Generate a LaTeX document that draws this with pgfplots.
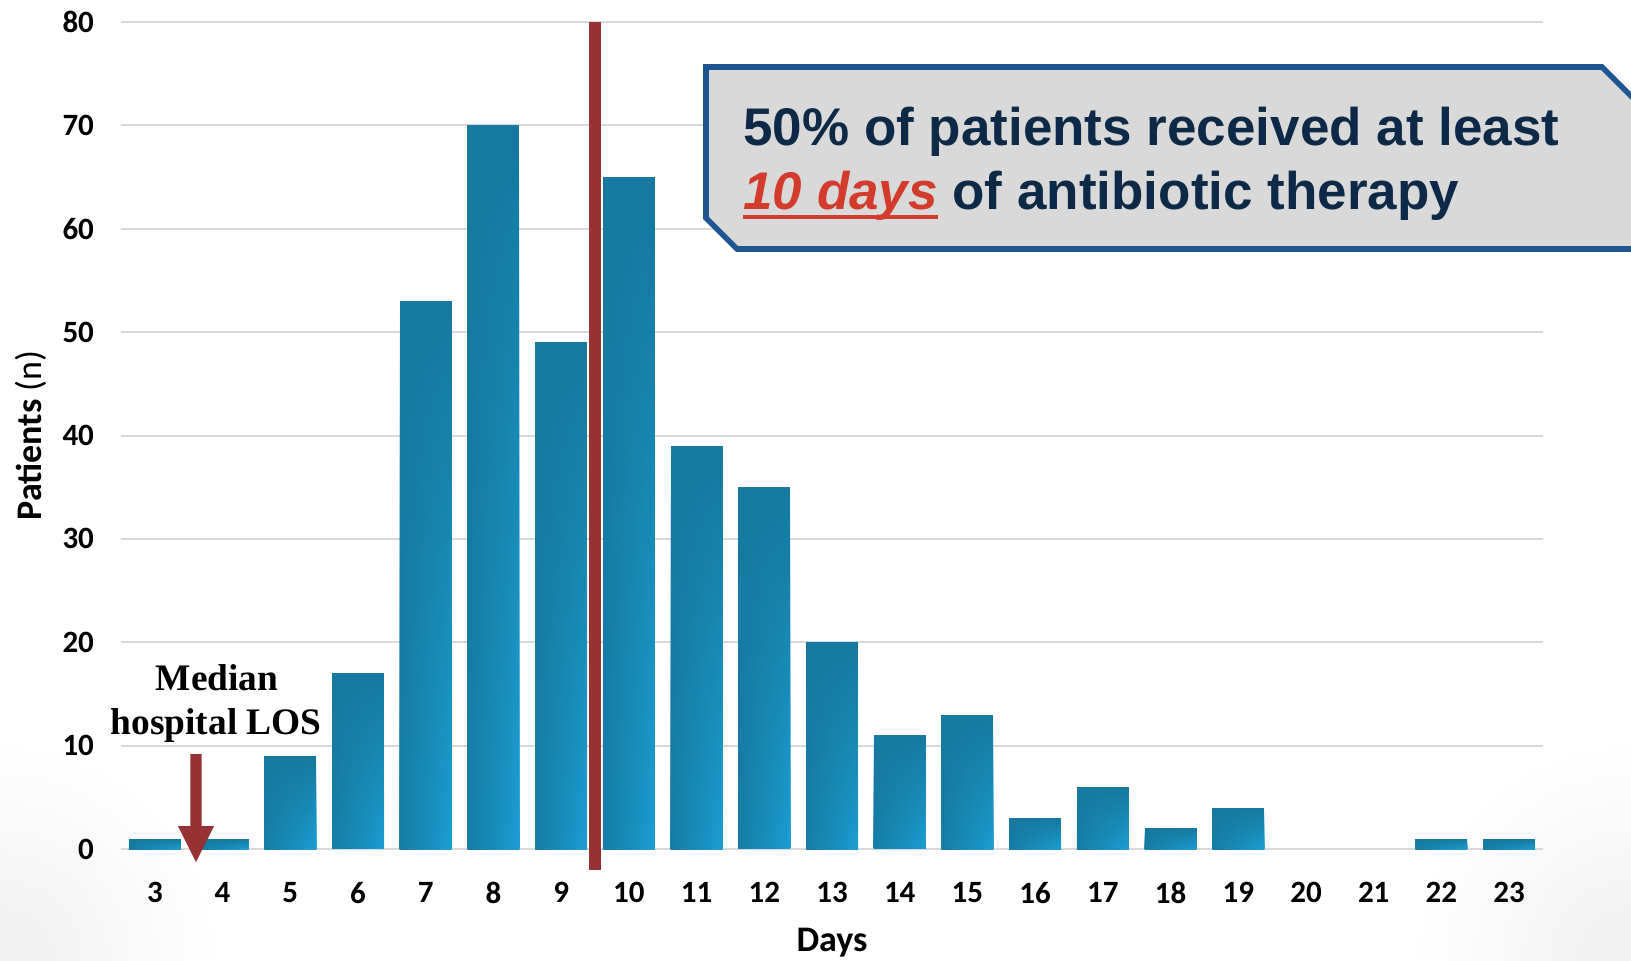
\documentclass[border=0pt]{standalone}
\usepackage{pgfplots}
\pgfplotsset{compat=1.18}
\usetikzlibrary{fadings}
\usepackage{fontspec}
\setmainfont{Carlito}
\newfontfamily\arialf{Liberation Sans}
\newfontfamily\seriff{Liberation Serif}
\definecolor{barD}{HTML}{16799F}
\definecolor{barL}{HTML}{167DA7}
\definecolor{barR}{HTML}{1C9ED3}
\definecolor{gridc}{HTML}{D9D9D9}
\definecolor{darkred}{HTML}{963234}
\definecolor{navy}{HTML}{0C2A48}
\definecolor{boxblue}{HTML}{1F5591}
\definecolor{boxfill}{HTML}{D9D9D9}
\definecolor{redtxt}{HTML}{D33C2C}
\pgfplotsset{mybar/.style={ybar, bar shift=0pt, bar width=26pt, draw=none, fill=barD,
  postaction={left color=barL, right color=barR, path fading=north}}}
\begin{document}
\begin{tikzpicture}
\useasboundingbox (-60.5pt,-55.5pt) rectangle (755pt,424.5pt);
\clip (-60.5pt,-55.5pt) rectangle (755pt,424.5pt);
\shade[inner color=black!6, outer color=white] (-60.5pt,-55.5pt) circle (110pt);
\shade[inner color=black!6, outer color=white] (755pt,-55.5pt) circle (110pt);
\begin{axis}[
 at={(0,0)}, anchor=south west,
 scale only axis, width=711pt, height=413.5pt,
 xmin=2.5, xmax=23.5, ymin=0, ymax=80,
 xtick={3,...,23}, ytick={0,10,...,80},
 ymajorgrids, grid style={draw=gridc, line width=1pt},
 axis line style={draw=none},
 major tick length=0pt, tick style={draw=none},
 tick label style={font=\fontsize{15.5}{18}\selectfont\bfseries},
 /pgf/number format/assume math mode=true,
 yticklabel style={xshift=-10pt},
 xticklabel style={yshift=-13pt},
 xlabel={Days}, ylabel={\textbf{Patients} (n)},
 xlabel style={font=\fontsize{18}{20}\selectfont\bfseries, at={(axis description cs:0.5,-0.113)}, anchor=center},
 ylabel style={font=\fontsize{18}{20}\selectfont, at={(axis description cs:-0.0633,0.5)}, anchor=center},
 clip=false,
]
% one \addplot per day so that each bar gets its own gradient
\addplot[mybar] coordinates {(3,1)};
\addplot[mybar] coordinates {(4,1)};
\addplot[mybar] coordinates {(5,9)};
\addplot[mybar] coordinates {(6,17)};
\addplot[mybar] coordinates {(7,53)};
\addplot[mybar] coordinates {(8,70)};
\addplot[mybar] coordinates {(9,49)};
\addplot[mybar] coordinates {(10,65)};
\addplot[mybar] coordinates {(11,39)};
\addplot[mybar] coordinates {(12,35)};
\addplot[mybar] coordinates {(13,20)};
\addplot[mybar] coordinates {(14,11)};
\addplot[mybar] coordinates {(15,13)};
\addplot[mybar] coordinates {(16,3)};
\addplot[mybar] coordinates {(17,6)};
\addplot[mybar] coordinates {(18,2)};
\addplot[mybar] coordinates {(19,4)};
\addplot[ybar, bar shift=0pt, bar width=26pt, draw=none, fill=none] coordinates {(20,0) (21,0)};
\addplot[mybar] coordinates {(22,1)};
\addplot[mybar] coordinates {(23,1)};
\draw[darkred, line width=6pt] (axis cs:9.5,80) -- (axis cs:9.5,-2);
\end{axis}
% arrow
\fill[darkred] (34.65pt,47.5pt) -- (40.35pt,47.5pt) -- (40.35pt,11.5pt) -- (46.5pt,11.5pt) -- (37.5pt,-6.5pt) -- (28.5pt,11.5pt) -- (34.65pt,11.5pt) -- cycle;
\node[anchor=base, inner sep=0, font=\seriff\bfseries\fontsize{18.7}{22}\selectfont] at (48pt,79.5pt) {Median};
\node[anchor=base, inner sep=0, font=\seriff\bfseries\fontsize{18.7}{22}\selectfont] at (47.6pt,57.3pt) {hospital LOS};
% callout
\draw[boxblue, line width=2.8pt, fill=boxfill, line join=miter] (292.5pt,315.5pt) -- (292.5pt,391pt) -- (740.5pt,391pt) -- (790pt,341.5pt) -- (790pt,300pt) -- (308pt,300pt) -- cycle;
\node[anchor=base west, inner sep=0, text=navy, font=\arialf\bfseries\fontsize{26.5}{30}\selectfont] at (311pt,351.7pt) {50\% of patients received at least};
\node[anchor=base west, inner sep=0, text=navy, font=\arialf\bfseries\fontsize{26.5}{30}\selectfont] at (311pt,319.5pt) {\textcolor{redtxt}{\itshape\setbox0\hbox{10 days}\rlap{\rule[-4.5pt]{\wd0}{2pt}}\box0} of antibiotic therapy};
\end{tikzpicture}
\end{document}
